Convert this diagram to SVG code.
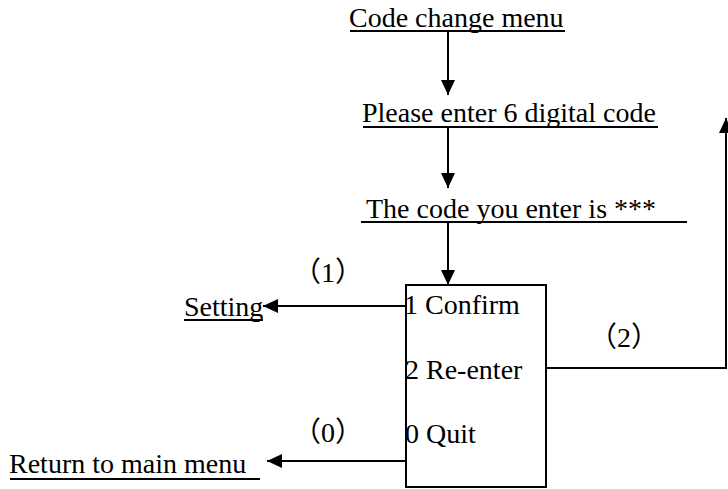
<svg xmlns="http://www.w3.org/2000/svg" width="728" height="489" viewBox="0 0 728 489">
<style>
text{font-family:"Liberation Serif","Noto Sans CJK SC",serif;font-size:28px;fill:#000}
.u{stroke:#000;stroke-width:2;fill:none}
.c{stroke:#000;stroke-width:2;fill:none}
.p{text-anchor:middle}
</style>
<defs>
<marker id="ah" markerUnits="userSpaceOnUse" markerWidth="16" markerHeight="14" refX="15" refY="7" orient="auto">
<path d="M0,0 L15,7 L0,14 Z" fill="#000"/>
</marker>
</defs>
<rect width="728" height="489" fill="#fff"/>
<g id="n-code-change-menu">
<text x="349" y="27">Code change menu</text>
<line class="u" x1="350" y1="31" x2="565" y2="31"/>
</g>
<g id="n-enter-code">
<text x="362" y="122">Please enter 6 digital code</text>
<line class="u" x1="363" y1="127" x2="658" y2="127"/>
</g>
<g id="n-code-is">
<text x="366" y="218">The code you enter is ***</text>
<line class="u" x1="361" y1="222" x2="687" y2="222"/>
</g>
<g id="n-menu-box">
<rect x="406" y="285" width="140" height="202" fill="none" stroke="#000" stroke-width="2"/>
<text x="404" y="314">1 Confirm</text>
<text x="405" y="379">2 Re-enter</text>
<text x="405" y="443">0 Quit</text>
</g>
<g id="n-setting">
<text x="184" y="316">Setting</text>
<line class="u" x1="184" y1="320" x2="263" y2="320"/>
</g>
<g id="n-return">
<text x="9" y="473">Return to main menu</text>
<line class="u" x1="10" y1="479" x2="260" y2="479"/>
</g>
<g id="connectors">
<line class="c" x1="448" y1="32" x2="448" y2="95" marker-end="url(#ah)"/>
<line class="c" x1="448" y1="128" x2="448" y2="188" marker-end="url(#ah)"/>
<line class="c" x1="448" y1="223" x2="448" y2="285" marker-end="url(#ah)"/>
<line class="c" x1="406" y1="306" x2="263" y2="306" marker-end="url(#ah)"/>
<line class="c" x1="406" y1="461" x2="267" y2="461" marker-end="url(#ah)"/>
<polyline class="c" points="546,368 726,368 726,118" marker-end="url(#ah)"/>
<text class="p" x="328" y="282">（1）</text>
<text class="p" x="624" y="347">（2）</text>
<text class="p" x="328" y="442">（0）</text>
</g>
</svg>
